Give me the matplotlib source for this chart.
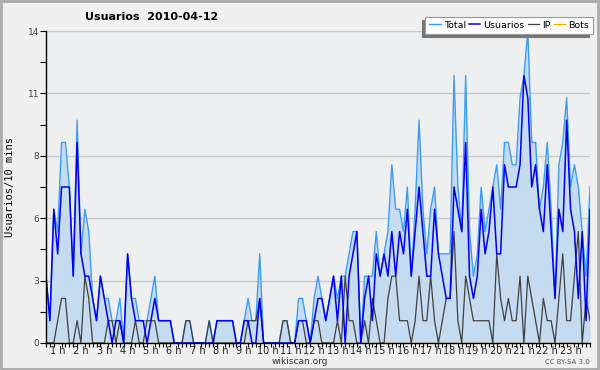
import matplotlib
matplotlib.use('Agg')
import matplotlib.pyplot as plt
from matplotlib.patches import Rectangle
import numpy as np

# one value every 10 minutes
usuarios = [3, 1, 6, 4, 7, 7, 7, 3, 9, 4, 3, 3, 2, 1, 3, 2, 1, 0, 1, 1,
            0, 4, 2, 1, 1, 1, 0, 1, 2, 1, 1, 1, 1, 0, 0, 0, 0, 0, 0, 0,
            0, 0, 0, 0, 1, 1, 1, 1, 1, 0, 0, 1, 1, 0, 0, 2, 0, 0, 0, 0,
            0, 0, 0, 0, 0, 1, 1, 1, 0, 1, 2, 2, 1, 2, 3, 1, 3, 0, 3, 4,
            5, 0, 2, 3, 1, 4, 3, 4, 3, 5, 3, 5, 4, 6, 3, 5, 7, 5, 3, 3,
            6, 4, 3, 2, 2, 7, 6, 5, 9, 3, 2, 3, 6, 4, 5, 7, 4, 4, 8, 7,
            7, 7, 8, 12, 11, 7, 8, 6, 5, 8, 5, 2, 6, 5, 10, 6, 5, 2, 5, 1,
            6]
ip = [0, 0, 0, 1, 2, 2, 0, 0, 1, 0, 3, 2, 0, 0, 0, 0, 1, 1, 0, 1,
      0, 0, 0, 1, 0, 0, 1, 1, 1, 0, 0, 0, 0, 0, 0, 0, 1, 1, 0, 0,
      0, 0, 1, 0, 0, 0, 0, 0, 0, 0, 0, 0, 1, 1, 1, 2, 0, 0, 0, 0,
      0, 1, 1, 0, 0, 1, 1, 0, 0, 1, 1, 0, 0, 0, 0, 1, 0, 3, 1, 1,
      0, 0, 1, 0, 2, 1, 0, 0, 2, 3, 3, 1, 1, 1, 0, 1, 3, 1, 1, 3,
      1, 0, 1, 2, 2, 5, 1, 0, 3, 2, 1, 1, 1, 1, 1, 0, 4, 2, 1, 2,
      1, 1, 3, 0, 3, 2, 1, 0, 2, 1, 1, 0, 2, 4, 1, 1, 3, 5, 0, 2,
      1]
total = [3, 1, 6, 5, 9, 9, 7, 3, 10, 4, 6, 5, 2, 1, 3, 2, 2, 1, 1, 2,
         0, 4, 2, 2, 1, 1, 1, 2, 3, 1, 1, 1, 1, 0, 0, 0, 1, 1, 0, 0,
         0, 0, 1, 0, 1, 1, 1, 1, 1, 0, 0, 1, 2, 1, 1, 4, 0, 0, 0, 0,
         0, 1, 1, 0, 0, 2, 2, 1, 0, 2, 3, 2, 1, 2, 3, 2, 3, 3, 4, 5,
         5, 0, 3, 3, 3, 5, 3, 4, 5, 8, 6, 6, 5, 7, 3, 6, 10, 6, 4, 6,
         7, 4, 4, 4, 4, 12, 7, 5, 12, 5, 3, 4, 7, 5, 6, 7, 8, 6, 9, 9,
         8, 8, 11, 12, 14, 9, 9, 6, 7, 9, 6, 2, 8, 9, 11, 7, 8, 7, 5, 3,
         7]
bots = [0] * len(total)

hours = list(range(1, 24))
hour_labels = ['%d h' % h for h in hours]
y_ticks = [0, 2.8, 5.6, 8.4, 11.2, 14]
y_labels = ['0', '3', '6', '8', '11', '14']

x = np.arange(len(total))

fig = plt.figure(figsize=(6, 3.7), dpi=100)
fig.patch.set_facecolor('#f0f0f0')
ax = fig.add_axes([0.0767, 0.073, 0.9066, 0.8432])
ax.set_facecolor('#eeeff1')

ax.fill_between(x, total, 0, color='#c5dcf0', linewidth=0, zorder=1)
ax.plot(x, bots, color='#ffa500', linewidth=1, zorder=2, label='Bots')
ax.plot(x, total, color='#3d9df5', linewidth=1, zorder=3, label='Total')
ax.plot(x, usuarios, color='#0000f0', linewidth=1.1, zorder=4, label='Usuarios')
ax.plot(x, ip, color='#404040', linewidth=0.9, zorder=3.5, label='IP')

ax.set_xlim(0, len(total) - 1)
ax.set_ylim(0, 14)

ax.set_yticks(y_ticks)
ax.set_yticklabels(y_labels, fontsize=6.5, color='#444444')
ax.set_yticks(np.arange(1.4, 14, 2.8), minor=True)
ax.yaxis.grid(True, which='major', color='#c8c8c8', linewidth=1)
ax.set_axisbelow(True)

ax.set_xticks([6 * h - 3 for h in hours])
ax.set_xticklabels(hour_labels, fontsize=7, color='#222222')
ax.set_xticks(x, minor=True)
ax.tick_params(axis='x', which='major', length=0, pad=2)
ax.tick_params(axis='x', which='minor', length=3, width=0.8, direction='out')
ax.tick_params(axis='y', which='both', length=4, width=0.8, direction='out', pad=1)

for s in ['top', 'right']:
    ax.spines[s].set_visible(False)
for s in ['left', 'bottom']:
    ax.spines[s].set_color('black')
    ax.spines[s].set_linewidth(1)
    ax.spines[s].set_zorder(6)

ax.set_ylabel('Usuarios/10 mins', fontsize=7.5, family='DejaVu Sans Mono', labelpad=9)

fig.text(0.142, 0.955, 'Usuarios  2010-04-12', fontsize=8, fontweight='bold',
         ha='left', va='center')

h, l = ax.get_legend_handles_labels()
order = [1, 2, 3, 0]
leg = fig.legend([h[i] for i in order], [l[i] for i in order], loc='upper right',
                 bbox_to_anchor=(0.988, 0.954), ncol=4, fontsize=6.8, frameon=True,
                 fancybox=False, shadow={'color': '#777777', 'alpha': 1, 'ox': -2.5, 'oy': -2.5},
                 handlelength=1.2, handletextpad=0.35, columnspacing=0.3,
                 borderpad=0.4, borderaxespad=0)
leg.get_frame().set_edgecolor('#999999')
leg.get_frame().set_linewidth(0.8)
leg.set_zorder(10)

fig.text(0.5, 0.022, 'wikiscan.org', fontsize=6.5, color='#333333', ha='center', va='center')
fig.text(0.983, 0.022, 'CC BY-SA 3.0', fontsize=5, color='#555555', ha='right', va='center')

fig.patches.append(Rectangle((0.001, 0.004), 0.996, 0.993, transform=fig.transFigure,
                             fill=False, edgecolor='#aaaaaa', linewidth=2))

fig.savefig('out.png', dpi=100, facecolor=fig.get_facecolor())
